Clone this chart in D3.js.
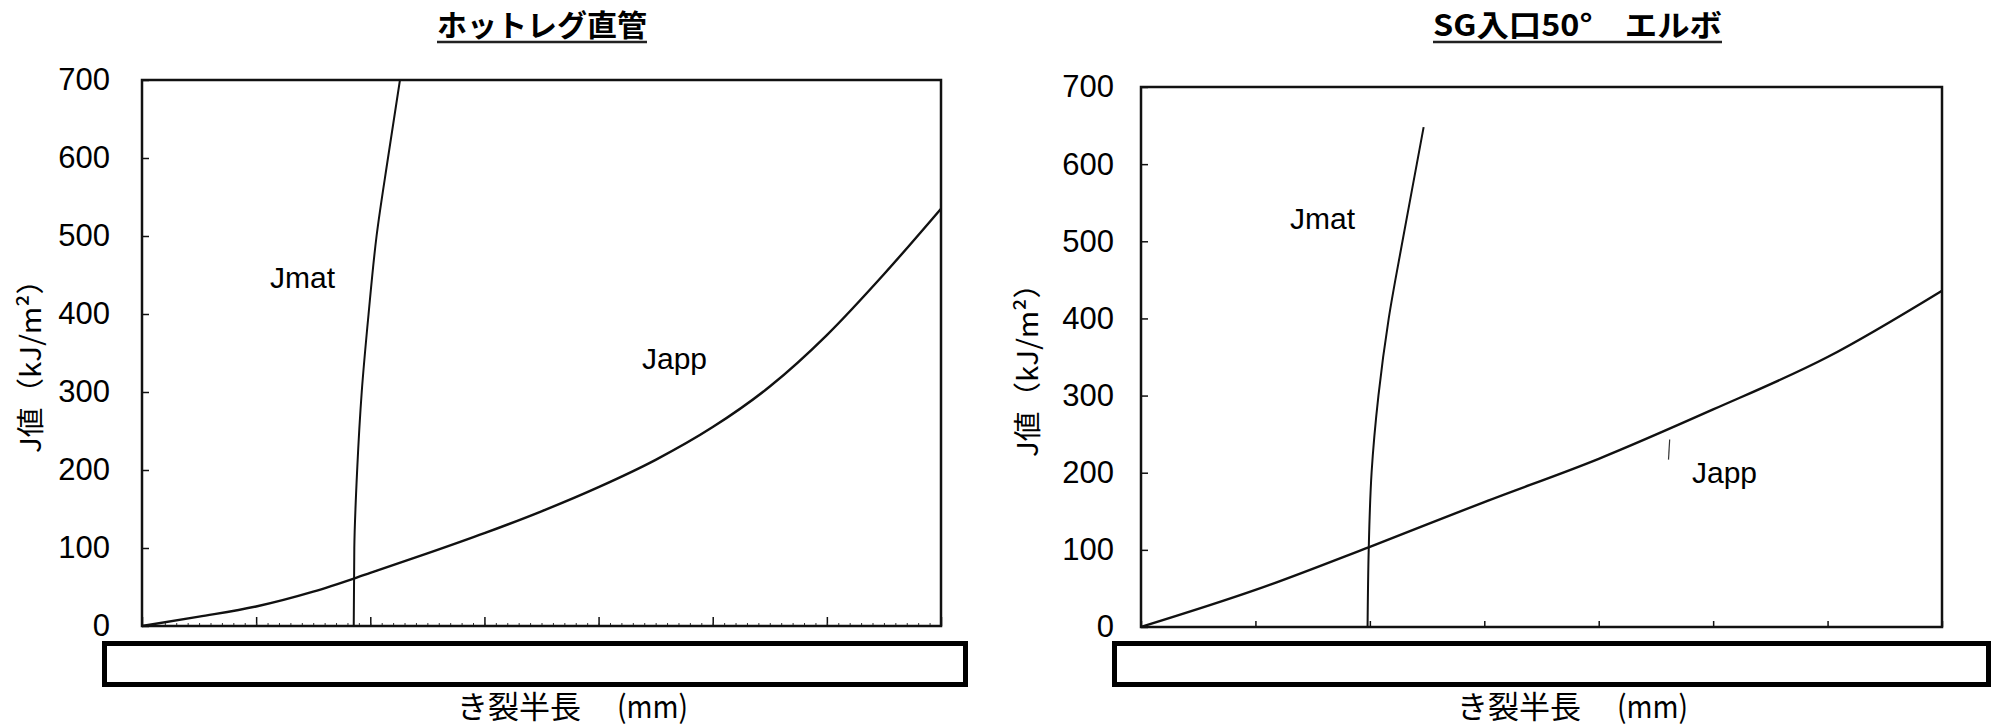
<!DOCTYPE html>
<html>
<head>
<meta charset="utf-8">
<script src="https://cdn.jsdelivr.net/npm/d3@7"></script>
<style>
  body { margin: 0; background: #fff; }
  svg { display: block; }
</style>
</head>
<body>
<div id="chart"></div>
<script>
var xTicks = [0, 1, 2, 3, 4, 5, 6, 7];
var yTicks = [0, 100, 200, 300, 400, 500, 600, 700];

// ホットレグ直管
var hlJappX = [0, 0.5, 1, 1.5, 2, 2.5, 3, 3.5, 4, 4.5, 5, 5.5, 6, 6.5, 7];
var hlJappY = [0, 12, 25, 44, 68, 93, 119, 147, 178, 213, 255, 307, 373, 451, 535];
var hlJmatX = [1.855, 1.86, 1.885, 1.925, 1.985, 2.055, 2.155, 2.26];
var hlJmatY = [0, 100, 200, 300, 400, 500, 600, 700];

// SG入口50°エルボ
var sgJappX = [0, 1, 2, 3, 4, 5, 6, 7];
var sgJappY = [0, 48, 104, 162, 218, 282, 350, 436];
var sgJmatX = [1.98, 1.99, 2.015, 2.075, 2.165, 2.285, 2.41, 2.47];
var sgJmatY = [0, 100, 200, 300, 400, 500, 600, 648];

var jpFont = "'Noto Sans CJK JP', sans-serif";
var numFont = "'Liberation Sans', Arial, sans-serif";

var svg = d3.select("#chart")
  .append("svg")
  .attr("width", 1998)
  .attr("height", 728);

function drawPanel(p) {
  var x = d3.scaleLinear().domain([0, 7]).range([p.left, p.right]);
  var y = d3.scaleLinear().domain([0, 700]).range([p.bottom, p.top]);
  var g = svg.append("g");

  // title with underline
  g.append("text")
    .attr("x", p.titleX)
    .attr("y", 36)
    .attr("textLength", p.titleW)
    .attr("lengthAdjust", "spacingAndGlyphs")
    .style("font-family", jpFont)
    .style("font-size", "30px")
    .style("font-weight", "700")
    .text(p.title);
  g.append("line")
    .attr("x1", p.titleX).attr("x2", p.titleX + p.titleW)
    .attr("y1", 42).attr("y2", 42)
    .attr("stroke", "#222")
    .attr("stroke-width", 2.5);

  // y axis, ticks pointing inward
  var ya = g.append("g")
    .attr("transform", "translate(" + p.left + ",0)")
    .call(d3.axisLeft(y).tickValues(yTicks).tickSize(-7).tickPadding(p.yPad));
  ya.select(".domain").remove();
  ya.selectAll("line").attr("stroke", "#111").attr("stroke-width", 1.5);
  ya.selectAll("text")
    .style("font-family", numFont)
    .style("font-size", "31px")
    .style("fill", "#000");

  // x axis ticks (labels are covered by the box)
  var xa = g.append("g")
    .attr("transform", "translate(0," + p.bottom + ")")
    .call(d3.axisBottom(x).tickValues(xTicks).tickSize(-p.tickLen).tickFormat(""));
  xa.select(".domain").remove();
  xa.selectAll("line").attr("stroke", "#111").attr("stroke-width", 1.5);

  if (p.minor) {
    var xm = g.append("g")
      .attr("transform", "translate(0," + p.bottom + ")")
      .call(d3.axisBottom(x).ticks(70).tickSize(-3).tickFormat(""));
    xm.select(".domain").remove();
    xm.selectAll("line").attr("stroke", "#333").attr("stroke-width", 1);
  }

  // frame
  g.append("rect")
    .attr("x", p.left)
    .attr("y", p.top)
    .attr("width", p.right - p.left)
    .attr("height", p.bottom - p.top)
    .attr("fill", "none")
    .attr("stroke", "#111")
    .attr("stroke-width", 2.5);

  var lineApp = d3.line()
    .x(function(d) { return x(d[0]); })
    .y(function(d) { return y(d[1]); })
    .curve(d3.curveMonotoneX);
  var lineMat = d3.line()
    .x(function(d) { return x(d[0]); })
    .y(function(d) { return y(d[1]); })
    .curve(d3.curveMonotoneY);

  g.append("path")
    .datum(d3.zip(p.jappX, p.jappY))
    .attr("d", lineApp)
    .attr("fill", "none")
    .attr("stroke", "#111")
    .attr("stroke-width", 2.4);
  g.append("path")
    .datum(d3.zip(p.jmatX, p.jmatY))
    .attr("d", lineMat)
    .attr("fill", "none")
    .attr("stroke", "#111")
    .attr("stroke-width", 2);

  if (p.leader) {
    g.append("path")
      .datum(p.leader)
      .attr("d", d3.line().x(function(d) { return x(d[0]); }).y(function(d) { return y(d[1]); }))
      .attr("fill", "none")
      .attr("stroke", "#333")
      .attr("stroke-width", 1.2);
  }

  // curve labels
  p.labels.forEach(function(l) {
    g.append("text")
      .attr("x", l.x)
      .attr("y", l.y)
      .style("font-family", numFont)
      .style("font-size", "30px")
      .style("fill", "#000")
      .text(l.text);
  });

  // y axis title
  g.append("text")
    .attr("transform", "translate(" + p.yTitleX + "," + p.yTitleY + ") rotate(-90)")
    .attr("x", -94)
    .attr("dy", "0.35em")
    .attr("textLength", 188)
    .attr("lengthAdjust", "spacingAndGlyphs")
    .style("font-family", jpFont)
    .style("font-size", "28px")
    .text("J値（kJ/m²）");

  // box over the x tick labels
  g.append("rect")
    .attr("x", p.boxL + 2.5)
    .attr("y", 643.5)
    .attr("width", p.boxR - p.boxL - 5)
    .attr("height", 41)
    .attr("fill", "#fff")
    .attr("stroke", "#000")
    .attr("stroke-width", 5);

  // x axis title
  g.append("text")
    .attr("x", p.xTitleX)
    .attr("y", 718)
    .style("font-family", jpFont)
    .style("font-size", "31px")
    .text("き裂半長");
  g.append("text")
    .attr("x", p.xTitleX + 160)
    .attr("y", 718)
    .attr("textLength", 71)
    .attr("lengthAdjust", "spacingAndGlyphs")
    .style("font-family", jpFont)
    .style("font-size", "31px")
    .text("(mm)");
}

drawPanel({
  title: "ホットレグ直管", titleX: 437, titleW: 210,
  left: 142, right: 941, top: 80, bottom: 626, yPad: 32, tickLen: 9, minor: true,
  jappX: hlJappX, jappY: hlJappY, jmatX: hlJmatX, jmatY: hlJmatY,
  labels: [{ text: "Jmat", x: 270, y: 288 }, { text: "Japp", x: 642, y: 369 }],
  yTitleX: 31, yTitleY: 359,
  boxL: 102, boxR: 968, xTitleX: 457
});

drawPanel({
  title: "SG入口50°　エルボ", titleX: 1433, titleW: 289,
  left: 1141, right: 1942, top: 87, bottom: 627, yPad: 27, tickLen: 6, minor: false,
  jappX: sgJappX, jappY: sgJappY, jmatX: sgJmatX, jmatY: sgJmatY,
  leader: [[4.62, 243], [4.61, 217]],
  labels: [{ text: "Jmat", x: 1290, y: 229 }, { text: "Japp", x: 1692, y: 483 }],
  yTitleX: 1028, yTitleY: 363,
  boxL: 1112, boxR: 1991, xTitleX: 1457
});
</script>
</body>
</html>
